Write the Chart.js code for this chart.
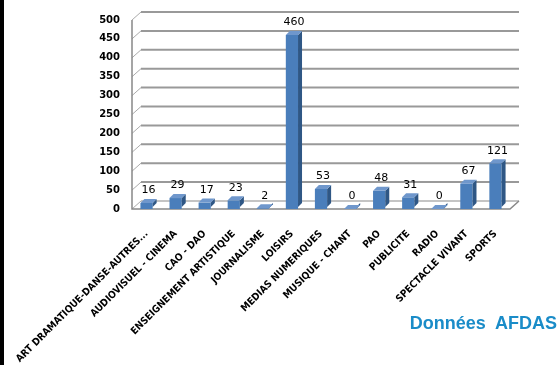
<!DOCTYPE html>
<html>
<head>
<meta charset="utf-8">
<script src="https://cdn.jsdelivr.net/npm/chart.js@4/dist/chart.umd.min.js"></script>
<style>
  body { margin: 0; background: #fff; }
  #wrap { position: relative; width: 558px; height: 365px; }
  #source {
    position: absolute; right: 1px; top: 313px;
    font: bold 18px "Liberation Sans", Arial, sans-serif;
    color: #1a8cc8; white-space: pre;
  }
</style>
</head>
<body>
<div id="wrap">
  <canvas id="chart" width="558" height="365"></canvas>
  <div id="source">Données  AFDAS</div>
</div>
<script>
// data
const categories = [
  "ART DRAMATIQUE-DANSE-AUTRES...", "AUDIOVISUEL - CINEMA", "CAO - DAO",
  "ENSEIGNEMENT ARTISTIQUE", "JOURNALISME", "LOISIRS", "MEDIAS NUMERIQUES",
  "MUSIQUE - CHANT", "PAO", "PUBLICITE", "RADIO", "SPECTACLE VIVANT", "SPORTS"
];
const values = [16, 29, 17, 23, 2, 460, 53, 0, 48, 31, 0, 67, 121];
const yMin = 0, yMax = 500, yStep = 50;

const DX = 9, DY = 8;  // wall depth
const BAR_D = 4;       // bar depth

// back walls + floor, drawn like excel 3d
const wallPlugin = {
  id: "walls",
  beforeDatasetsDraw(chart) {
    const { ctx, chartArea: a, scales: { y } } = chart;
    ctx.save();
    for (let v = yMin; v <= yMax; v += yStep) {
      const py = y.getPixelForValue(v);
      ctx.lineWidth = 1;
      ctx.strokeStyle = "#aaa";
      ctx.beginPath();
      ctx.moveTo(a.left, py);
      ctx.lineTo(a.left + DX, py - DY);
      ctx.stroke();
      ctx.lineWidth = 2;
      ctx.strokeStyle = v === 0 ? "#c4c4c4" : "#999";
      ctx.beginPath();
      ctx.moveTo(a.left + DX, py - DY);
      ctx.lineTo(a.right + DX, py - DY);
      ctx.stroke();
    }
    ctx.lineWidth = 1.5;
    ctx.strokeStyle = "#888";
    ctx.beginPath();
    ctx.moveTo(a.left, a.top);
    ctx.lineTo(a.left, a.bottom);
    ctx.lineTo(a.right, a.bottom);
    ctx.lineTo(a.right + DX, a.bottom - DY);
    ctx.stroke();
    ctx.restore();
  },
  afterDatasetsDraw(chart) {
    const { ctx } = chart;
    const meta = chart.getDatasetMeta(0);
    ctx.save();
    meta.data.forEach((bar, i) => {
      const w = bar.width, x0 = bar.x - w / 2, x1 = bar.x + w / 2;
      const top = bar.y, base = bar.base - 2;
      // side
      ctx.fillStyle = "#2f5785";
      ctx.beginPath();
      ctx.moveTo(x1, top); ctx.lineTo(x1 + BAR_D, top - BAR_D);
      ctx.lineTo(x1 + BAR_D, base - BAR_D); ctx.lineTo(x1, base);
      ctx.closePath(); ctx.fill();
      // top
      ctx.fillStyle = "#6f97cc";
      ctx.beginPath();
      ctx.moveTo(x0, top); ctx.lineTo(x0 + BAR_D, top - BAR_D);
      ctx.lineTo(x1 + BAR_D, top - BAR_D); ctx.lineTo(x1, top);
      ctx.closePath(); ctx.fill();
      // value label
      ctx.fillStyle = "#000";
      ctx.font = '11px "DejaVu Sans"';
      ctx.textAlign = "center";
      ctx.textBaseline = "bottom";
      ctx.fillText(values[i], bar.x + BAR_D / 2, top - BAR_D - 3);
    });
    // left black border
    ctx.fillStyle = "#000";
    ctx.fillRect(0, 0, 4, chart.height);
    ctx.restore();
  }
};

new Chart(document.getElementById("chart"), {
  type: "bar",
  data: {
    labels: categories,
    datasets: [{
      data: values,
      backgroundColor: "#4a7ebb",
      barPercentage: 0.42,
      categoryPercentage: 1
    }]
  },
  options: {
    responsive: false,
    animation: false,
    layout: { padding: { left: 0, right: 48, top: 20, bottom: 0 } },
    plugins: { legend: { display: false }, tooltip: { enabled: false } },
    scales: {
      x: {
        grid: { display: false, drawTicks: false },
        border: { display: false },
        afterFit: s => { s.height = 156; s.paddingLeft = 0; s.paddingRight = 0; },
        ticks: {
          autoSkip: false, minRotation: 45, maxRotation: 45, padding: 19,
          color: "#000",
          font: { family: "DejaVu Sans Condensed", weight: "bold", size: 10 }
        }
      },
      y: {
        min: yMin, max: yMax,
        grid: { display: false, drawTicks: false },
        border: { display: false },
        afterFit: s => { s.width = 132; },
        ticks: {
          stepSize: yStep, padding: 12, color: "#000",
          font: { family: "DejaVu Sans", weight: "bold", size: 10 }
        }
      }
    }
  },
  plugins: [wallPlugin]
});
</script>
</body>
</html>
